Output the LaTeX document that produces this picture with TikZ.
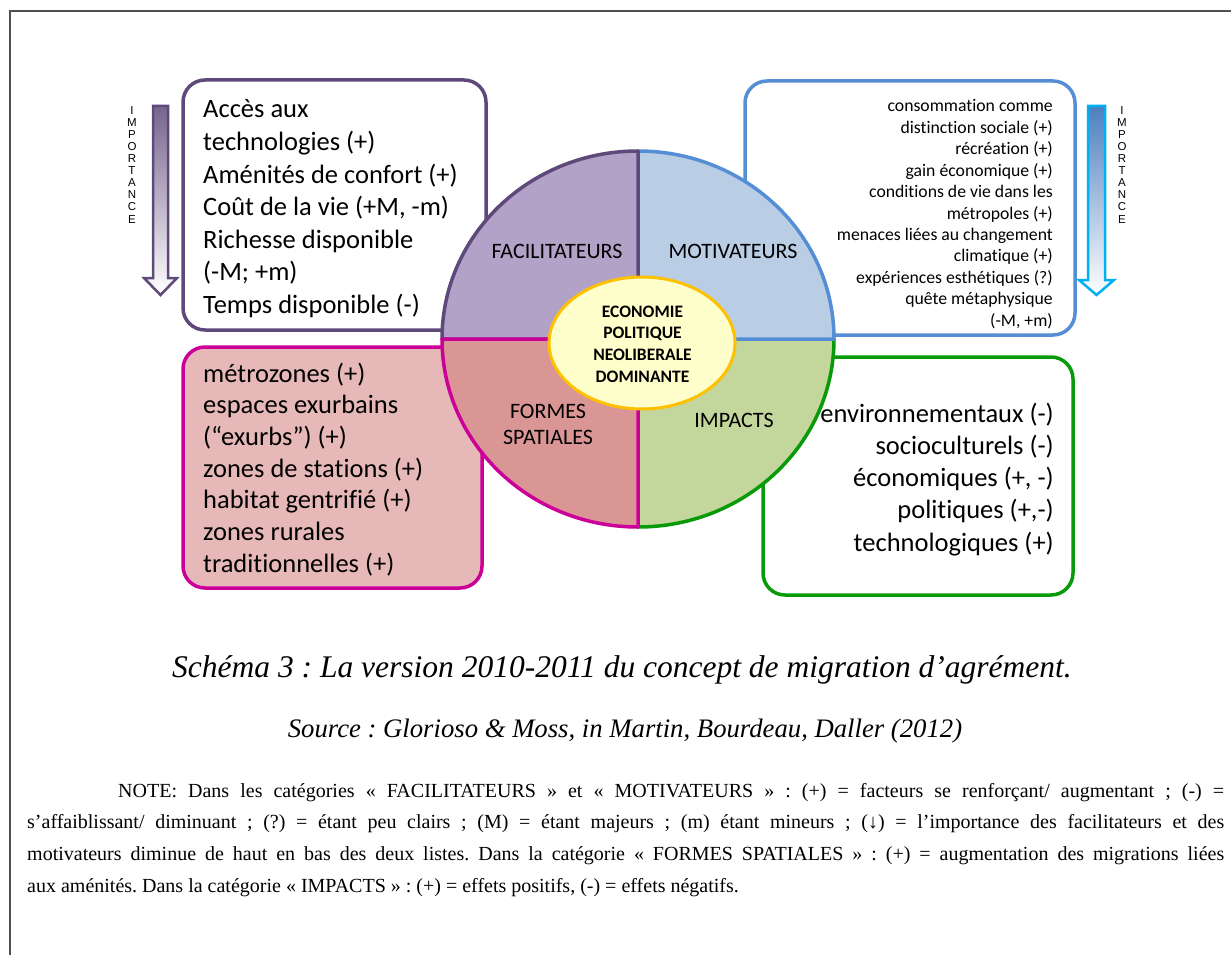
\documentclass[tikz,border=0pt]{standalone}
\usepackage{fontspec}
\setmainfont{Liberation Serif}
\newfontfamily\calibri[Ligatures=NoCommon]{Carlito}
\newfontfamily\arialf{Liberation Sans}
\usepackage{xcolor}
\usetikzlibrary{positioning, calc}
\frenchspacing

\definecolor{facborder}{HTML}{5F497A}
\definecolor{facfill}{HTML}{B2A2C7}
\definecolor{motborder}{HTML}{558ED5}
\definecolor{motfill}{HTML}{B9CDE5}
\definecolor{forborder}{HTML}{CC0099}
\definecolor{forfill}{HTML}{D99694}
\definecolor{forbox}{HTML}{E6B9B8}
\definecolor{impborder}{HTML}{089A08}
\definecolor{impfill}{HTML}{C3D69B}
\definecolor{ecoborder}{HTML}{FFC000}
\definecolor{ecofill}{HTML}{FFFFCC}
\definecolor{framegray}{HTML}{505050}
\definecolor{arrowcyan}{HTML}{00B0F0}

\tikzset{
  listbox/.style={rounded corners=22pt, line width=3.5pt},
  quadrant/.style={line width=3.5pt, line join=round},
  bigtxt/.style={font=\calibri\fontsize{26.5}{32.5}\selectfont, inner sep=0pt},
  smalltxt/.style={font=\calibri\fontsize{17.7}{21.4}\selectfont, inner sep=0pt},
  quadtxt/.style={font=\calibri\fontsize{22}{26.7}\selectfont, inner sep=0pt, align=center},
  ecotxt/.style={font=\calibri\bfseries\fontsize{17.5}{21.6}\selectfont, inner sep=0pt, align=center},
  imptxt/.style={font=\arialf\fontsize{11.5}{12.1}\selectfont, inner sep=0pt, align=center},
  notetxt/.style={font=\fontsize{20}{31.7}\selectfont, inner sep=0pt, text width=1197pt, align=justify},
}

\begin{document}
\begin{tikzpicture}[x=1pt, y=-1pt]
    \useasboundingbox (0,0) rectangle (1231,955);

    % Frame
    \draw[framegray, line width=2pt] (9.5,955) -- (9.5,11) -- (1231,11);

    % List boxes
    \draw[listbox, facborder, fill=white] (183,80) rectangle (486,330);
    \draw[listbox, motborder, fill=white] (745,81) rectangle (1075,335);
    \draw[listbox, forborder, fill=forbox] (183,347) rectangle (482,588);
    \draw[listbox, impborder, fill=white] (763,357) rectangle (1073,595);

    % Importance arrows
    \draw[facborder, line width=2.5pt, line join=miter, top color=facborder!85!white, bottom color=white]
        (153,106) -- (168,106) -- (168,278) -- (177,278) -- (160.5,295) -- (144,278) -- (153,278) -- cycle;
    \draw[arrowcyan, line width=2.5pt, line join=miter, top color=motborder!90!black, bottom color=white]
        (1088,106) -- (1105,106) -- (1105,280) -- (1114,280) -- (1096.5,295) -- (1079,280) -- (1088,280) -- cycle;
    \node[imptxt, anchor=north] (impleft) at (132,106) {I\\M\\P\\O\\R\\T\\A\\N\\C\\E};
    \node[imptxt, anchor=north] (impright) at (1122,106) {I\\M\\P\\O\\R\\T\\A\\N\\C\\E};

    % Circle quadrants
    \coordinate (c) at (638,339);
    \def\rx{196}
    \def\ry{188}
    \filldraw[quadrant, impborder, fill=impfill] (c) -- ++(\rx,0) arc[start angle=0, end angle=90, x radius=\rx, y radius=\ry] -- cycle;
    \filldraw[quadrant, motborder, fill=motfill] (c) -- ++(0,-\ry) arc[start angle=270, end angle=360, x radius=\rx, y radius=\ry] -- cycle;
    \filldraw[quadrant, facborder, fill=facfill] (c) -- ++(-\rx,0) arc[start angle=180, end angle=270, x radius=\rx, y radius=\ry] -- cycle;
    \filldraw[quadrant, forborder, fill=forfill] (c) -- ++(0,\ry) arc[start angle=90, end angle=180, x radius=\rx, y radius=\ry] -- cycle;

    % Centre
    \filldraw[ecoborder, fill=ecofill, line width=3pt] (642,343) ellipse[x radius=93, y radius=66];
    \node[ecotxt] (eco) at (642.5,344) {ECONOMIE\\POLITIQUE\\NEOLIBERALE\\DOMINANTE};

    % Quadrant labels
    \node[quadtxt, anchor=base] (fac) at (557,258) {FACILITATEURS};
    \node[quadtxt, anchor=base] (mot) at (733,258) {MOTIVATEURS};
    \node[quadtxt] (for) at (548,424.5) {FORMES\\SPATIALES};
    \node[quadtxt, anchor=base] (imp) at (734,427) {IMPACTS};

    % Lists
    \foreach \ligne [count=\i] in {Accès aux, technologies (+), Aménités de confort (+), {Coût de la vie (+M, -m)}, Richesse disponible, {(-M; +m)}, Temps disponible (-)}
        \node[bigtxt, anchor=base west] (fac\i) at (203,{118+32.5*(\i-1)}) {\ligne};
    \foreach \ligne [count=\i] in {consommation comme, distinction sociale (+), récréation (+), gain économique (+), conditions de vie dans les, métropoles (+), menaces liées au changement, climatique (+), expériences esthétiques (?), quête métaphysique, {(-M, +m)}}
        \node[smalltxt, anchor=base east] (mot\i) at (1053,{112+21.4*(\i-1)}) {\ligne};
    \foreach \ligne [count=\i] in {métrozones (+), espaces exurbains, {(“exurbs”) (+)}, zones de stations (+), habitat gentrifié (+), zones rurales, traditionnelles (+)}
        \node[bigtxt, anchor=base west] (for\i) at (203,{382+31.7*(\i-1)}) {\ligne};
    \foreach \ligne [count=\i] in {environnementaux (-), socioculturels (-), {économiques (+, -)}, {politiques (+,-)}, technologiques (+)}
        \node[bigtxt, anchor=base east] (imp\i) at (1054,{422+32.25*(\i-1)}) {\ligne};

    % Caption
    \node[font=\itshape\fontsize{31.5}{38}\selectfont, inner sep=0pt, anchor=base] (titre) at (622,677)
        {Schéma 3 : La version 2010-2011 du concept de migration d’agrément.};
    \node[font=\itshape\fontsize{26.7}{32}\selectfont, inner sep=0pt, anchor=base] (source) at (625,737)
        {Source : Glorioso \& Moss, in Martin, Bourdeau, Daller (2012)};

    % Note
    \node[notetxt, anchor=north west] (note) at (27,783) {\hyphenpenalty=10000\hspace*{91pt}NOTE: Dans les catégories «~FACILITATEURS~» et «~MOTIVATEURS~» : (+) = facteurs se renforçant/ augmentant ; (-)~=\linebreak s’affaiblissant/ diminuant ; (?) = étant peu clairs ; (M) = étant majeurs ; (m) étant mineurs ; (↓) = l’importance des facilitateurs et des\linebreak motivateurs diminue de haut en bas des deux listes. Dans la catégorie «~FORMES SPATIALES~» : (+) = augmentation des migrations liées\linebreak aux aménités. Dans la catégorie «~IMPACTS~» : (+) = effets positifs, (-) = effets négatifs.};
\end{tikzpicture}
\end{document}
